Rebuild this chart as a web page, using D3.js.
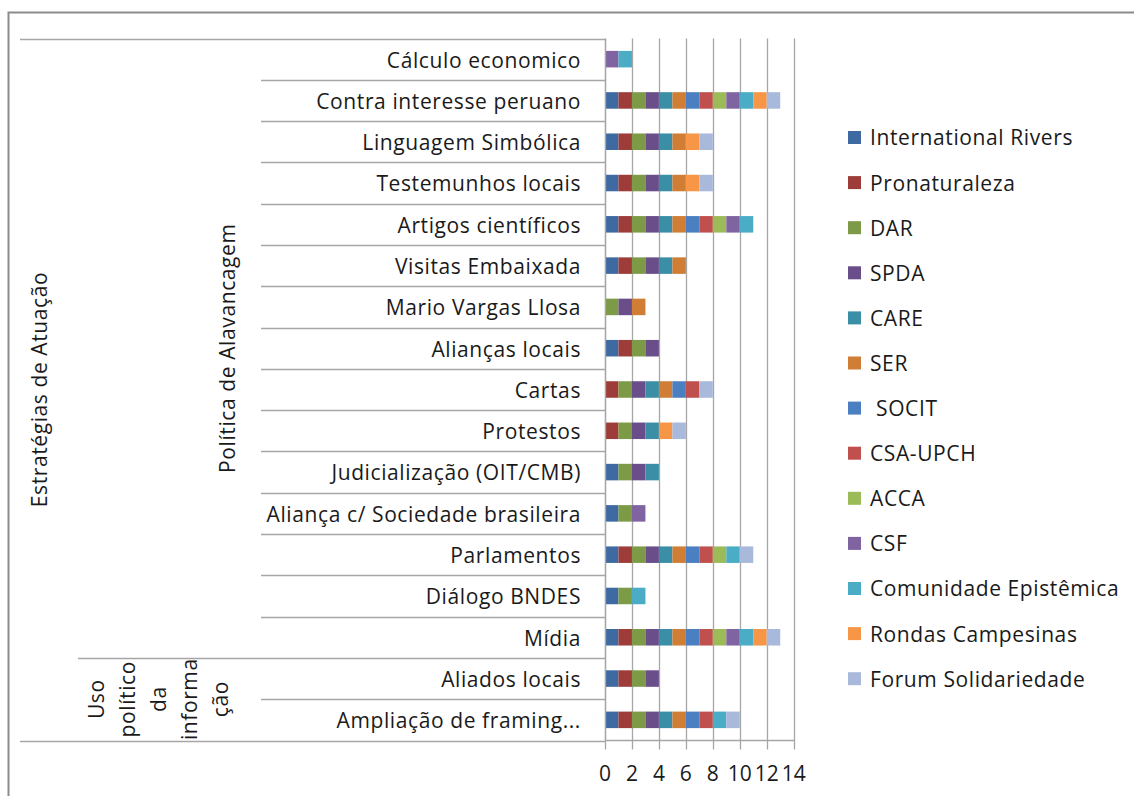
<!DOCTYPE html>
<html><head><meta charset="utf-8">
<script src="https://cdn.jsdelivr.net/npm/d3@7"></script>
<style>
html,body{margin:0;padding:0;background:#fff;}
svg{display:block;font-family:"Open Sans","Noto Sans",sans-serif;}
</style></head>
<body>
<svg id="chart" width="1134" height="796"></svg>
<script>
// Categories, top to bottom as drawn
const categories = [
  "Cálculo economico","Contra interesse peruano","Linguagem Simbólica","Testemunhos locais",
  "Artigos científicos","Visitas Embaixada","Mario Vargas Llosa","Alianças locais","Cartas",
  "Protestos","Judicialização (OIT/CMB)","Aliança c/ Sociedade brasileira","Parlamentos",
  "Diálogo BNDES","Mídia","Aliados locais","Ampliação de framing..."
];
const groupLevel1 = [
  {label: ["Política de Alavancagem"], from: 0, to: 14},
  {label: ["Uso","político","da","informa","ção"], from: 15, to: 16}
];
const groupLevel2 = [{label: "Estratégias de Atuação", from: 0, to: 16}];

const seriesNames = ["International Rivers","Pronaturaleza","DAR","SPDA","CARE","SER"," SOCIT",
  "CSA-UPCH","ACCA","CSF","Comunidade Epistêmica","Rondas Campesinas","Forum Solidariedade"];

const internationalRivers = [0,1,1,1,1,1,0,1,0,0,1,1,1,1,1,1,1];
const pronaturaleza       = [0,1,1,1,1,1,0,1,1,1,0,0,1,0,1,1,1];
const dar                 = [0,1,1,1,1,1,1,1,1,1,1,1,1,1,1,1,1];
const spda                = [0,1,1,1,1,1,1,1,1,1,1,0,1,0,1,1,1];
const care                = [0,1,1,1,1,1,0,0,1,1,1,0,1,0,1,0,1];
const ser                 = [0,1,1,1,1,1,1,0,1,0,0,0,1,0,1,0,1];
const socit               = [0,1,0,0,1,0,0,0,1,0,0,0,1,0,1,0,1];
const csaUpch             = [0,1,0,0,1,0,0,0,1,0,0,0,1,0,1,0,1];
const acca                = [0,1,0,0,1,0,0,0,0,0,0,0,1,0,1,0,0];
const csf                 = [1,1,0,0,1,0,0,0,0,0,0,1,0,0,1,0,0];
const comunidadeEpistemica= [1,1,0,0,1,0,0,0,0,0,0,0,1,1,1,0,1];
const rondasCampesinas    = [0,1,1,1,0,0,0,0,0,1,0,0,0,0,1,0,0];
const forumSolidariedade  = [0,1,1,1,0,0,0,0,1,1,0,0,1,0,1,0,1];

const seriesValues = [internationalRivers,pronaturaleza,dar,spda,care,ser,socit,csaUpch,acca,csf,
  comunidadeEpistemica,rondasCampesinas,forumSolidariedade];

const xTicks = [0,2,4,6,8,10,12,14];

const colors = ["#3E6AA1","#9E3C3A","#7D9A46","#694E89","#3A8EA6","#D07E35","#4A7FC1",
  "#C0504D","#9BBB59","#8064A2","#4BACC6","#F79646","#A8B9DB"];

// Build table for stacking
const table = categories.map((c,i)=>{
  const row = {cat:c};
  seriesNames.forEach((s,j)=>row[s]=seriesValues[j][i]);
  return row;
});
const stacked = d3.stack().keys(seriesNames)(table);

const svg = d3.select("#chart");
const plotTop = 38.5, plotBottom = 740.5, plotLeft = 605, plotRight = 793.7;
const x = d3.scaleLinear().domain([0,14]).range([plotLeft, plotRight]);
const y = d3.scaleBand().domain(categories).range([plotTop, plotBottom]).paddingInner(0.6).paddingOuter(0.3);
const step = y.step();
const bandTop = i => plotTop + i*step;

const lineColor = "#A6A6A6";
const textColor = "#1a1a1a";
const fs = 21;
const ls = "0.6px";

// outer frame
svg.append("path").attr("d","M8.5,796 L8.5,12.5 L1134,12.5").attr("fill","none").attr("stroke","#8C8C8C").attr("stroke-width",2);

// gridlines
svg.append("g").selectAll("line").data(xTicks).join("line")
  .attr("x1",d=>Math.round(x(d))+0.5).attr("x2",d=>Math.round(x(d))+0.5)
  .attr("y1",plotTop).attr("y2",plotBottom+9)
  .attr("stroke",lineColor).attr("stroke-width",1.3);

// bars
svg.append("g").selectAll("g").data(stacked).join("g")
  .attr("fill",(d,i)=>colors[i])
  .selectAll("rect").data(d=>d.filter(v=>v[1]-v[0]>0).map(v=>({v, cat:v.data.cat}))).join("rect")
  .attr("x",d=>x(d.v[0])).attr("width",d=>x(d.v[1])-x(d.v[0]))
  .attr("y",d=>y(d.cat)).attr("height",y.bandwidth());

// x axis line
svg.append("line").attr("x1",plotLeft).attr("x2",plotRight+0.5).attr("y1",plotBottom).attr("y2",plotBottom)
  .attr("stroke",lineColor).attr("stroke-width",1.3);
// y axis line
svg.append("line").attr("x1",plotLeft+0.5).attr("x2",plotLeft+0.5).attr("y1",plotTop).attr("y2",plotBottom)
  .attr("stroke",lineColor).attr("stroke-width",1.3);

// x tick labels
svg.append("g").selectAll("text").data(xTicks).join("text")
  .attr("x",d=>x(d)).attr("y",781).attr("text-anchor","middle")
  .attr("font-size",fs).attr("fill",textColor).text(d=>d);

// category separators (level 0)
const sepLevel0 = d3.range(0, categories.length+1);
svg.append("g").selectAll("line").data(sepLevel0).join("line")
  .attr("x1",i=>{
    if(i===0 || i===categories.length) return 20;
    if(groupLevel1.some(g=>g.from===i)) return 78;
    return 261;
  })
  .attr("x2",plotLeft).attr("y1",i=>Math.round(bandTop(i))+0.5).attr("y2",i=>Math.round(bandTop(i))+0.5)
  .attr("stroke",lineColor).attr("stroke-width",1.3);

// category labels
svg.append("g").selectAll("text").data(categories).join("text")
  .attr("x",581).attr("y",d=>y(d)+y.bandwidth()/2).attr("dy","0.4em")
  .attr("text-anchor","end").attr("font-size",fs).attr("letter-spacing",ls).attr("fill",textColor).text(d=>d);

// level 1 group labels
groupLevel1.forEach(g=>{
  const cy = (bandTop(g.from)+bandTop(g.to+1))/2;
  const n = g.label.length;
  const lineH = 31;
  const cx0 = n===1 ? 228 : 97;
  g.label.forEach((t,k)=>{
    const cx = n===1 ? cx0 : cx0 + k*lineH;
    svg.append("text").attr("transform",`translate(${cx},${cy}) rotate(-90)`)
      .attr("text-anchor","middle").attr("dy","0.35em").attr("font-size",fs).attr("letter-spacing",ls)
      .attr("fill",textColor).text(t);
  });
});
// level 2 group label
groupLevel2.forEach(g=>{
  const cy = (bandTop(g.from)+bandTop(g.to+1))/2;
  svg.append("text").attr("transform",`translate(40,${cy}) rotate(-90)`)
    .attr("text-anchor","middle").attr("dy","0.35em").attr("font-size",fs).attr("letter-spacing",ls)
    .attr("fill",textColor).text(g.label);
});

// legend
const leg = svg.append("g").selectAll("g").data(seriesNames).join("g")
  .attr("transform",(d,i)=>`translate(848,${137+i*45.1})`);
leg.append("rect").attr("x",0).attr("y",-6).attr("width",13).attr("height",13).attr("fill",(d,i)=>colors[i]);
leg.append("text").attr("x",22).attr("y",0).attr("dy","0.4em").attr("font-size",fs).attr("letter-spacing",ls)
  .attr("fill",textColor).style("white-space","pre").text(d=>d);
</script>
</body></html>
